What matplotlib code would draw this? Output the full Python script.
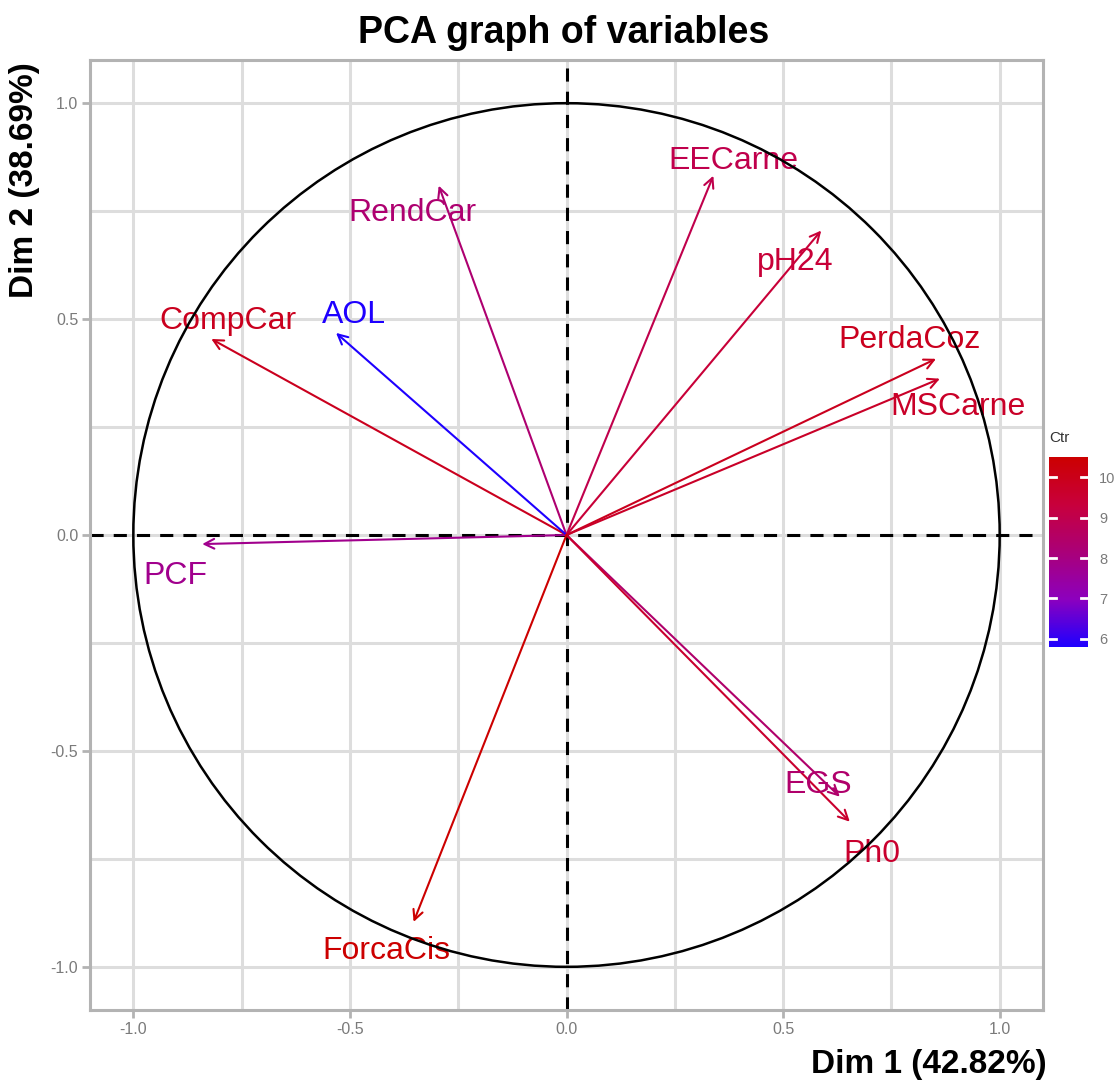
import numpy as np
import matplotlib
matplotlib.use('Agg')
import matplotlib.pyplot as plt
from matplotlib.colors import LinearSegmentedColormap, Normalize
from matplotlib.cm import ScalarMappable
from matplotlib.patches import Circle

plt.rcParams['font.family'] = ['Liberation Sans', 'DejaVu Sans']

# variable coordinates on Dim 1 / Dim 2 and their contribution
variables = ['PCF', 'CompCar', 'RendCar', 'AOL', 'EECarne', 'pH24',
             'PerdaCoz', 'MSCarne', 'EGS', 'Ph0', 'ForcaCis']
dim1 = [-0.841, -0.820, -0.295, -0.532, 0.339, 0.588,
        0.853, 0.862, 0.631, 0.654, -0.353]
dim2 = [-0.021, 0.454, 0.809, 0.468, 0.832, 0.705,
        0.408, 0.362, -0.606, -0.664, -0.896]
contrib = [7.8, 9.9, 8.3, 5.8, 9.0, 9.4, 9.9, 9.7, 8.4, 9.6, 10.5]

dim1_pct = 42.82
dim2_pct = 38.69
cbar_ticks = [6, 7, 8, 9, 10]

# label jitter in pixels (right, down) relative to arrow tip
lab_dx = [-27, 17, -26, 18, 20, -26, -26, 18, -22, 22, -27]
lab_dy = [28, -21, 24, -21, -18, 28, -22, 25, -15, 29, 26]

cmap = LinearSegmentedColormap.from_list(
    'ctr', [(0.0, '#1E00FF'), (0.25, '#8C00BE'), (0.5, '#AA0078'),
            (0.75, '#C8003C'), (1.0, '#CC0000')])
norm = Normalize(vmin=min(contrib), vmax=max(contrib))

W, H = 1119, 1082
fig = plt.figure(figsize=(W / 100, H / 100), dpi=100)
ax = fig.add_axes([90 / W, 1 - 1010 / H, (1043 - 90) / W, (1010 - 60) / H])

ax.set_xlim(-1.1, 1.1)
ax.set_ylim(-1.1, 1.1)

# grid every 0.25, same look for major and minor
grid = np.arange(-1.0, 1.01, 0.25)
for g in grid:
    ax.axvline(g, color='#DDDDDD', lw=2.2, zorder=0)
    ax.axhline(g, color='#DDDDDD', lw=2.2, zorder=0)

ax.axhline(0, color='black', lw=2.2, dashes=(4.3, 3.3), zorder=1.5)
ax.axvline(0, color='black', lw=2.2, dashes=(4.3, 3.3), zorder=1.5)

for i, name in enumerate(variables):
    c = cmap(norm(contrib[i]))
    ax.annotate('', xy=(dim1[i], dim2[i]), xytext=(0, 0),
                arrowprops=dict(arrowstyle='->,head_length=0.7,head_width=0.35',
                                color=c, lw=1.5, shrinkA=0, shrinkB=0),
                zorder=2)
    ax.annotate(name, xy=(dim1[i], dim2[i]),
                xytext=(lab_dx[i], -(lab_dy[i] + 11.5)), textcoords='offset pixels',
                ha='center', va='baseline', color=c, fontsize=23, zorder=3)

ax.add_patch(Circle((0, 0), 1.0, fill=False, edgecolor='black', lw=1.8, zorder=4))

ticks = [-1.0, -0.5, 0.0, 0.5, 1.0]
ax.set_xticks(ticks)
ax.set_yticks(ticks)
ax.set_xticklabels(['-1.0', '-0.5', '0.0', '0.5', '1.0'])
ax.set_yticklabels(['-1.0', '-0.5', '0.0', '0.5', '1.0'])
ax.tick_params(length=5.5, width=2, color='#B3B3B3', labelsize=11.5,
               labelcolor='#7A7A7A', pad=3)
for s in ax.spines.values():
    s.set_color('#B3B3B3')
    s.set_linewidth(2.2)

fig.text(564 / W, 1 - 43 / H, 'PCA graph of variables', ha='center', va='baseline',
         fontsize=27, fontweight='bold')
fig.text(1047 / W, 1 - 1073 / H, 'Dim 1 (%.2f%%)' % dim1_pct, ha='right', va='baseline',
         fontsize=24, fontweight='bold')
fig.text(25 / W, 1 - 62 / H, 'Dim 2 (%.2f%%)' % dim2_pct, ha='center', va='top',
         rotation=90, fontsize=24, fontweight='bold')

# colour bar
cax = fig.add_axes([1049 / W, 1 - 647 / H, 39 / W, 190 / H])
cb = fig.colorbar(ScalarMappable(norm=norm, cmap=cmap), cax=cax, ticks=cbar_ticks)
cb.outline.set_visible(False)
cax.tick_params(length=0, labelsize=10.5, labelcolor='#7A7A7A', pad=8)
for t in cbar_ticks:
    cax.plot([0, 0.18], [t, t], color='white', lw=2, transform=cax.get_yaxis_transform())
    cax.plot([0.82, 1.0], [t, t], color='white', lw=2, transform=cax.get_yaxis_transform())
fig.text(1049 / W, 1 - 438 / H, 'Ctr', ha='left', va='center', fontsize=11, color='#333333')

fig.savefig('out.png', dpi=100)
